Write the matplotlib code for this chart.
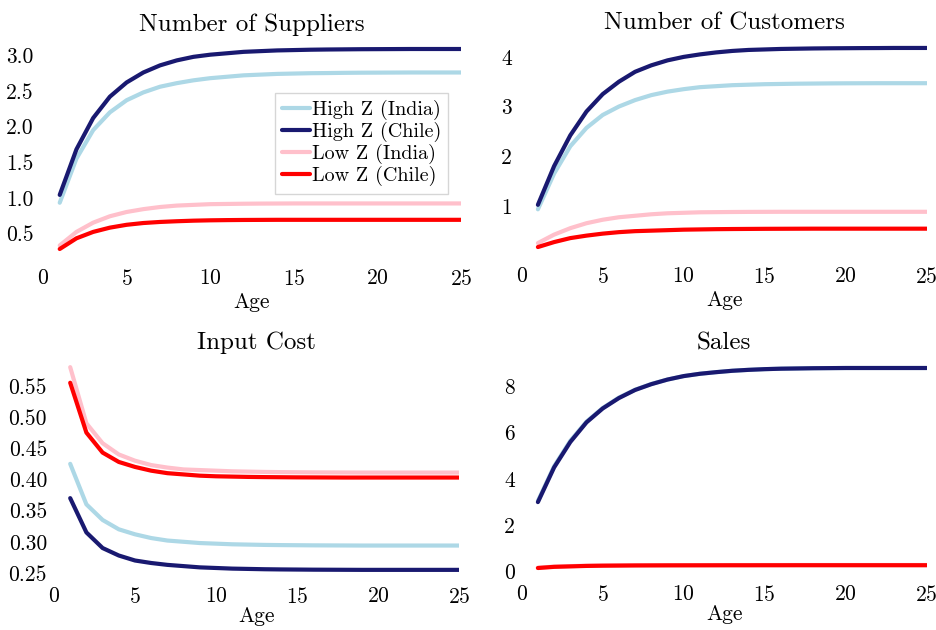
import matplotlib
matplotlib.use("Agg")
import matplotlib.pyplot as plt

plt.rcParams['font.family'] = ['cmr10', 'DejaVu Serif']
plt.rcParams['mathtext.fontset'] = 'cm'
plt.rcParams['axes.formatter.use_mathtext'] = True

age = list(range(1, 26))

# Number of Suppliers
sup_hi_ind = [0.93, 1.55, 1.95, 2.20, 2.37, 2.48, 2.56, 2.61, 2.65, 2.68, 2.70, 2.72, 2.73,
              2.74, 2.745, 2.75, 2.752, 2.755, 2.757, 2.758, 2.759, 2.76, 2.76, 2.76, 2.76]
sup_hi_chl = [1.04, 1.68, 2.12, 2.42, 2.62, 2.76, 2.86, 2.93, 2.98, 3.01, 3.03, 3.05, 3.06,
              3.07, 3.075, 3.08, 3.083, 3.085, 3.087, 3.088, 3.089, 3.09, 3.09, 3.09, 3.09]
sup_lo_ind = [0.33, 0.52, 0.65, 0.74, 0.80, 0.84, 0.87, 0.89, 0.90, 0.91, 0.913, 0.916, 0.918,
              0.919, 0.92, 0.92, 0.92, 0.92, 0.92, 0.92, 0.92, 0.92, 0.92, 0.92, 0.92]
sup_lo_chl = [0.28, 0.43, 0.52, 0.58, 0.62, 0.645, 0.66, 0.67, 0.678, 0.683, 0.686, 0.688, 0.689,
              0.69, 0.69, 0.69, 0.69, 0.69, 0.69, 0.69, 0.69, 0.69, 0.69, 0.69, 0.69]

# Number of Customers
cus_hi_ind = [0.93, 1.65, 2.20, 2.57, 2.83, 3.00, 3.13, 3.23, 3.30, 3.35, 3.39, 3.41, 3.43,
              3.44, 3.45, 3.455, 3.46, 3.463, 3.466, 3.468, 3.469, 3.47, 3.47, 3.47, 3.47]
cus_hi_chl = [1.02, 1.80, 2.42, 2.90, 3.25, 3.50, 3.70, 3.83, 3.93, 4.00, 4.05, 4.09, 4.12,
              4.14, 4.15, 4.16, 4.165, 4.17, 4.173, 4.175, 4.177, 4.178, 4.18, 4.18, 4.18]
cus_lo_ind = [0.25, 0.42, 0.55, 0.65, 0.72, 0.77, 0.80, 0.83, 0.85, 0.86, 0.87, 0.873, 0.876,
              0.878, 0.879, 0.88, 0.88, 0.88, 0.88, 0.88, 0.88, 0.88, 0.88, 0.88, 0.88]
cus_lo_chl = [0.17, 0.27, 0.35, 0.40, 0.44, 0.47, 0.49, 0.50, 0.51, 0.52, 0.525, 0.53, 0.533,
              0.535, 0.537, 0.538, 0.539, 0.54, 0.54, 0.54, 0.54, 0.54, 0.54, 0.54, 0.54]

# Input Cost
cost_hi_ind = [0.425, 0.360, 0.335, 0.320, 0.312, 0.306, 0.302, 0.300, 0.298, 0.297, 0.296,
               0.2955, 0.295, 0.2947, 0.2945, 0.2943, 0.2942, 0.2941, 0.294, 0.294, 0.294,
               0.294, 0.294, 0.294, 0.294]
cost_hi_chl = [0.370, 0.315, 0.290, 0.278, 0.270, 0.266, 0.263, 0.261, 0.259, 0.258, 0.257,
               0.2565, 0.256, 0.2557, 0.2555, 0.2553, 0.2552, 0.2551, 0.255, 0.255, 0.255,
               0.255, 0.255, 0.255, 0.255]
cost_lo_ind = [0.580, 0.490, 0.458, 0.440, 0.430, 0.423, 0.419, 0.416, 0.415, 0.414, 0.413,
               0.4125, 0.412, 0.4117, 0.4115, 0.4113, 0.4112, 0.4111, 0.411, 0.411, 0.411,
               0.411, 0.411, 0.411, 0.411]
cost_lo_chl = [0.555, 0.475, 0.443, 0.428, 0.420, 0.414, 0.410, 0.408, 0.406, 0.405, 0.4045,
               0.404, 0.4037, 0.4035, 0.4033, 0.4032, 0.4031, 0.403, 0.403, 0.403, 0.403,
               0.403, 0.403, 0.403, 0.403]

# Sales
sal_hi_ind = [3.05, 4.55, 5.65, 6.48, 7.07, 7.52, 7.86, 8.11, 8.30, 8.45, 8.55, 8.62, 8.68,
              8.72, 8.75, 8.77, 8.78, 8.79, 8.795, 8.8, 8.8, 8.8, 8.8, 8.8, 8.8]
sal_hi_chl = [3.0, 4.5, 5.6, 6.45, 7.05, 7.5, 7.85, 8.1, 8.3, 8.45, 8.55, 8.62, 8.68,
              8.72, 8.75, 8.77, 8.78, 8.79, 8.795, 8.8, 8.8, 8.8, 8.8, 8.8, 8.8]
sal_lo_ind = [0.16, 0.21, 0.23, 0.25, 0.26, 0.265, 0.27, 0.272, 0.274, 0.275, 0.276, 0.277, 0.278,
              0.278, 0.279, 0.279, 0.28, 0.28, 0.28, 0.28, 0.28, 0.28, 0.28, 0.28, 0.28]
sal_lo_chl = [0.15, 0.20, 0.22, 0.24, 0.25, 0.255, 0.26, 0.262, 0.264, 0.265, 0.266, 0.267, 0.268,
              0.268, 0.269, 0.269, 0.27, 0.27, 0.27, 0.27, 0.27, 0.27, 0.27, 0.27, 0.27]

labels = ['High Z (India)', 'High Z (Chile)', 'Low Z (India)', 'Low Z (Chile)']
colors = ['lightblue', 'midnightblue', 'pink', 'red']

sup_ticks = [0.5, 1.0, 1.5, 2.0, 2.5, 3.0]
cus_ticks = [1, 2, 3, 4]
cost_ticks = [0.25, 0.30, 0.35, 0.40, 0.45, 0.50, 0.55]
sal_ticks = [0, 2, 4, 6, 8]

panels = [
    ('Number of Suppliers', [sup_hi_ind, sup_hi_chl, sup_lo_ind, sup_lo_chl], sup_ticks, '%.1f',
     [43/937, 1 - 259/630, 418/937, 220/630]),
    ('Number of Customers', [cus_hi_ind, cus_hi_chl, cus_lo_ind, cus_lo_chl], cus_ticks, '%d',
     [521.7/937, 1 - 257/630, 405/937, 219/630]),
    ('Input Cost', [cost_hi_ind, cost_hi_chl, cost_lo_ind, cost_lo_chl], cost_ticks, '%.2f',
     [54/937, 1 - 580/630, 405/937, 223/630]),
    ('Sales', [sal_hi_ind, sal_hi_chl, sal_lo_ind, sal_lo_chl], sal_ticks, '%d',
     [521.7/937, 1 - 578/630, 405/937, 220/630]),
]

fig = plt.figure(figsize=(9.37, 6.3), dpi=100)

axes = []
for i, (title, series, yt, fmt, pos) in enumerate(panels):
    ax = fig.add_axes(pos)
    for ys, lab, c in zip(series, labels, colors):
        ax.plot(age, ys, color=c, lw=3, label=lab, solid_capstyle='round')
    ax.set_xlim(0, 25)
    ax.set_xticks([0, 5, 10, 15, 20, 25])
    ax.set_yticks(yt)
    ax.set_yticklabels([fmt % v for v in yt])
    ax.set_title(title, fontsize=18)
    # bottom row sits at the figure edge, keep "Age" inside
    ax.set_xlabel('Age', fontsize=15.5, labelpad=3 if i < 2 else 0)
    ax.tick_params(length=0, labelsize=15.5, pad=7 if i < 2 else 5)
    for s in ax.spines.values():
        s.set_visible(False)
    axes.append(ax)

axes[0].legend(loc='upper right', bbox_to_anchor=(0.97, 0.755), borderaxespad=0,
               fontsize=14.5, fancybox=False, framealpha=0.8, edgecolor='#cccccc',
               handlelength=1.4, handletextpad=0.1, labelspacing=0.1, borderpad=0.35)

fig.savefig('out.png', dpi=100)
